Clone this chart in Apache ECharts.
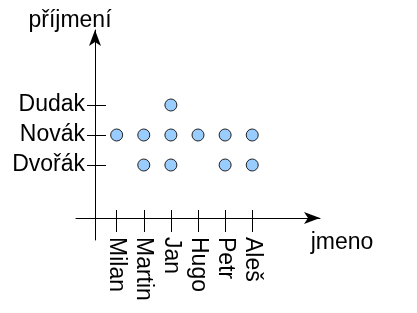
<!DOCTYPE html>
<html>
<head>
<meta charset="utf-8">
<script src="https://cdn.jsdelivr.net/npm/echarts@6/dist/echarts.min.js"></script>
<style>
html,body{margin:0;padding:0;background:#fff;}
#chart{width:417px;height:313px;}
</style>
</head>
<body>
<div id="chart"></div>
<script>
// Categories
var jmena = ['Milan', 'Martin', 'Jan', 'Hugo', 'Petr', 'Aleš'];
var prijmeni = ['Dvořák', 'Novák', 'Dudak'];
// Observed (jmeno, příjmení) pairs
var pointJmeno   = ['Milan', 'Martin', 'Martin', 'Jan',   'Jan',   'Jan',    'Hugo',  'Petr',  'Petr',   'Aleš',  'Aleš'];
var pointPrijmeni= ['Novák', 'Novák',  'Dvořák', 'Dudak', 'Novák', 'Dvořák', 'Novák', 'Novák', 'Dvořák', 'Novák', 'Dvořák'];
var xName = 'jmeno';
var yName = 'příjmení';

// padding (empty) categories so the axis extends beyond the data
var xCats = [' '].concat(jmena, ['  ', '   ']);
var yCats = [' ', '  '].concat(prijmeni, ['   ', '    ']);

var data = pointJmeno.map(function (j, i) { return [j, pointPrijmeni[i]]; });

var font = 'Liberation Sans, Arial, sans-serif';
var FS = 23;
function realTick(index, value) { return String(value).trim() !== ''; }

var chart = echarts.init(document.getElementById('chart'), null, {renderer: 'canvas'});
chart.setOption({
  animation: false,
  backgroundColor: '#ffffff',
  grid: {left: 76, right: 97, top: 30, bottom: 73, containLabel: false},
  xAxis: [{
    type: 'category', data: xCats, position: 'bottom', offset: -22,
    boundaryGap: true,
    name: '{n|' + xName + '}', nameLocation: 'end', nameGap: 22, nameMoveOverlap: false,
    nameTextStyle: {
      fontFamily: font, fontSize: FS, color: '#000', align: 'center', verticalAlign: 'top',
      rich: {n: {fontFamily: font, fontSize: FS, color: '#000', padding: [13, 0, 0, 0]}}
    },
    axisLine: {show: true, lineStyle: {color: '#000', width: 1}, symbol: ['none', 'arrow'], symbolSize: [9, 16]},
    axisTick: {show: true, alignWithLabel: true, interval: realTick, length: 14, lineStyle: {color: '#000', width: 1}},
    axisLabel: {show: true, interval: 0, rotate: -90, margin: 19, fontFamily: font, fontSize: FS, color: '#000'},
    splitLine: {show: false}
  }, {
    type: 'category', data: xCats, position: 'bottom', offset: -22,
    boundaryGap: true,
    axisLine: {show: false},
    axisTick: {show: true, inside: true, alignWithLabel: true, interval: realTick, length: 8, lineStyle: {color: '#000', width: 1}},
    axisLabel: {show: false},
    splitLine: {show: false}
  }],
  yAxis: [{
    type: 'category', data: yCats, position: 'left', offset: -19,
    boundaryGap: true,
    name: yName, nameLocation: 'end', nameGap: -2,
    nameTextStyle: {fontFamily: font, fontSize: FS, color: '#000', padding: [0, 50, 0, 0]},
    axisLine: {show: true, lineStyle: {color: '#000', width: 1}, symbol: ['none', 'arrow'], symbolSize: [9, 16]},
    axisTick: {show: true, alignWithLabel: true, interval: realTick, length: 8, lineStyle: {color: '#000', width: 1}},
    axisLabel: {show: true, interval: 0, margin: 10, fontFamily: font, fontSize: FS, color: '#000'},
    splitLine: {show: false}
  }, {
    type: 'category', data: yCats, position: 'left', offset: -19,
    boundaryGap: true,
    axisLine: {show: false},
    axisTick: {show: true, inside: true, alignWithLabel: true, interval: realTick, length: 11, lineStyle: {color: '#000', width: 1}},
    axisLabel: {show: false},
    splitLine: {show: false}
  }],
  series: [{
    type: 'scatter',
    xAxisIndex: 0, yAxisIndex: 0,
    data: data,
    symbol: 'circle', symbolSize: 12,
    itemStyle: {color: '#99ccff', borderColor: '#222', borderWidth: 1, opacity: 1}
  }]
});
</script>
</body>
</html>
